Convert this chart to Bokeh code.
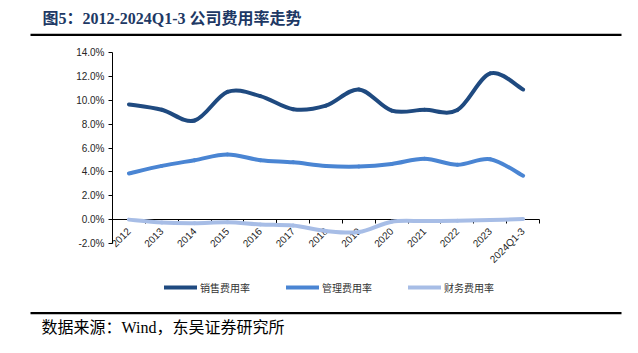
import math
import numpy as np
from bokeh.plotting import figure
from bokeh.models import (Range1d, LinearAxis, FixedTicker, ColumnDataSource, Legend,
                          LegendItem, Label, BoxAnnotation)
from bokeh.embed import file_html
from bokeh.resources import INLINE

# ---------------- data ----------------
categories = ["2012", "2013", "2014", "2015", "2016", "2017", "2018",
              "2019", "2020", "2021", "2022", "2023", "2024Q1-3"]
selling = [9.65, 9.2, 8.3, 10.7, 10.35, 9.25, 9.55, 10.9, 9.13, 9.2, 9.18, 12.25, 10.9]
admin = [3.87, 4.5, 4.98, 5.45, 4.98, 4.8, 4.5, 4.45, 4.66, 5.1, 4.6, 5.06, 3.68]
finance = [0.0, -0.25, -0.3, -0.23, -0.4, -0.5, -0.95, -1.04, -0.17, -0.12, -0.1, -0.04, 0.05]
series_names = ["销售费用率", "管理费用率", "财务费用率"]
y_ticks = [-2, 0, 2, 4, 6, 8, 10, 12, 14]
y_tick_labels = ["-2.0%", "0.0%", "2.0%", "4.0%", "6.0%", "8.0%", "10.0%", "12.0%", "14.0%"]
title_text = "图5：2012-2024Q1-3 公司费用率走势"
source_text = "数据来源：Wind，东吴证券研究所"

# ---------------- layout constants ----------------
W, H = 638, 353
FL, FR, FT, FB = 112, 539, 52, 243   # plot area in canvas pixels
n = len(categories)
x_min, x_max = -0.5, n - 0.5
y_min, y_max = y_ticks[0], y_ticks[-1]
sx = (FR - FL) / (x_max - x_min)
sy = (FB - FT) / (y_max - y_min)
x_range = Range1d(x_min - FL / sx, x_max + (W - FR) / sx)
y_range = Range1d(y_min - (H - FB) / sy, y_max + FT / sy)

colors = ["#1F4A80", "#4A85D3", "#A7BDE6"]


def bezier_source(ys):
    xs = np.arange(len(ys), dtype=float)
    ys = np.asarray(ys, dtype=float)
    px = np.concatenate([[xs[0]], xs, [xs[-1]]])
    py = np.concatenate([[ys[0]], ys, [ys[-1]]])
    m = len(ys)
    return ColumnDataSource(dict(
        x0=xs[:-1], y0=ys[:-1], x1=xs[1:], y1=ys[1:],
        cx0=px[1:m] + (px[2:m + 1] - px[0:m - 1]) / 6.0,
        cy0=py[1:m] + (py[2:m + 1] - py[0:m - 1]) / 6.0,
        cx1=px[2:m + 1] - (px[3:m + 2] - px[1:m]) / 6.0,
        cy1=py[2:m + 1] - (py[3:m + 2] - py[1:m]) / 6.0,
    ))


p = figure(width=W, height=H, x_range=x_range, y_range=y_range,
           output_backend="svg", toolbar_location=None, min_border=0,
           x_axis_type=None, y_axis_type=None, outline_line_color=None,
           background_fill_color="white", border_fill_color="white")

# axes
yaxis = LinearAxis(fixed_location=x_min, bounds=(y_min, y_max),
                   ticker=FixedTicker(ticks=y_ticks),
                   major_label_overrides={float(t): l for t, l in zip(y_ticks, y_tick_labels)},
                   major_tick_in=0, major_tick_out=4, minor_tick_in=0, minor_tick_out=0,
                   axis_line_color="black", major_tick_line_color="black",
                   major_label_text_font="Liberation Sans", major_label_text_font_size="10px",
                   major_label_text_color="#262626", major_label_standoff=4, level="underlay")
p.add_layout(yaxis, "left")

xaxis = LinearAxis(fixed_location=0, bounds=(x_min, x_max),
                   ticker=FixedTicker(ticks=list(range(n)),
                                      minor_ticks=[i - 0.5 for i in range(n + 1)]),
                   major_label_overrides={float(i): c for i, c in enumerate(categories)},
                   major_tick_in=0, major_tick_out=0, minor_tick_in=0, minor_tick_out=4,
                   axis_line_color="black", minor_tick_line_color="black",
                   major_label_orientation=math.pi / 4,
                   major_label_text_font="Liberation Sans", major_label_text_font_size="10px",
                   major_label_text_color="#262626", major_label_standoff=6, level="underlay")
p.add_layout(xaxis, "below")

renderers = []
for ys, col in [(selling, colors[0]), (admin, colors[1]), (finance, colors[2])]:
    r = p.bezier(x0="x0", y0="y0", x1="x1", y1="y1", cx0="cx0", cy0="cy0", cx1="cx1", cy1="cy1",
                 source=bezier_source(ys), line_color=col, line_width=4, line_cap="round")
    renderers.append(r)

legend = Legend(items=[LegendItem(label=nm, renderers=[r], index=0) for nm, r in zip(series_names, renderers)],
                location=(164, 56), orientation="horizontal", glyph_width=33, glyph_height=20,
                label_standoff=3, spacing=0, label_width=86, label_height=20, padding=0, margin=0,
                border_line_color=None, background_fill_alpha=0,
                label_text_font="Noto Sans CJK SC", label_text_font_size="10px",
                label_text_color="#333333")
p.add_layout(legend)

p.add_layout(Label(x=42, y=H - 18, x_units="screen", y_units="screen", text=title_text,
                   text_font="Liberation Serif, Noto Sans CJK SC", text_font_size="16px",
                   text_font_style="bold", text_color="#203864", text_baseline="middle"))
p.add_layout(Label(x=41, y=H - 327, x_units="screen", y_units="screen", text=source_text,
                   text_font="Liberation Serif, Noto Sans CJK SC", text_font_size="16px",
                   text_color="black", text_baseline="middle"))

for yc in (34.3, 312.7):
    p.add_layout(BoxAnnotation(left=30, right=621, top=H - yc + 1.1, bottom=H - yc - 1.1,
                               left_units="screen", right_units="screen",
                               top_units="screen", bottom_units="screen",
                               fill_color="black", fill_alpha=1, line_color=None))

open("out.html", "w").write(file_html(p, INLINE))
